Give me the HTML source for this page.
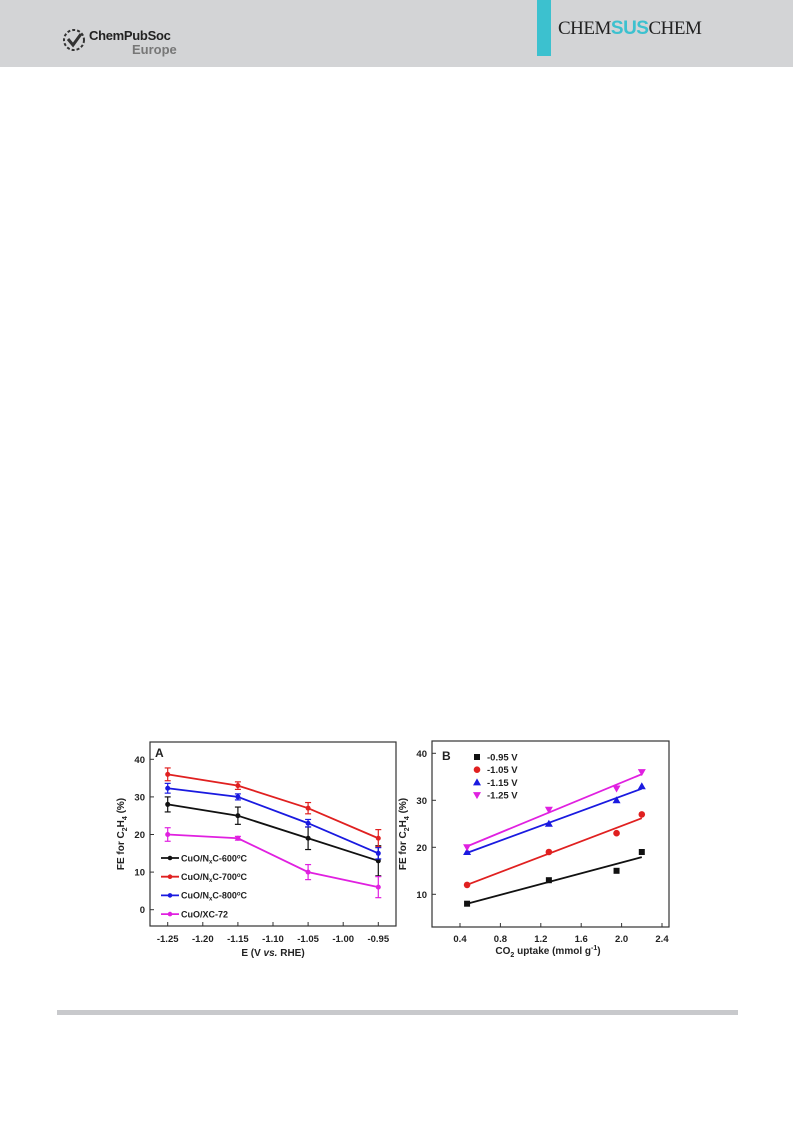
<!DOCTYPE html>
<html><head><meta charset="utf-8"><style>
body{margin:0;width:793px;height:1121px;background:#fff;position:relative;overflow:hidden;font-family:"Liberation Sans",sans-serif}
#hdr{position:absolute;left:0;top:0;width:793px;height:67px;background:#d3d4d6}
#teal{position:absolute;left:537px;top:0;width:14px;height:56px;background:#3cc1cf}
#journal{position:absolute;left:558px;top:18px;font-family:"Liberation Serif",serif;font-size:19px;color:#222;letter-spacing:-0.5px}
#journal span{font-family:"Liberation Sans",sans-serif;color:#3cc1cf;font-weight:bold}
#pub{position:absolute;left:89px;top:28px;font-size:13px;color:#222;font-weight:bold;letter-spacing:-0.3px}
#eur{position:absolute;left:132px;top:42px;font-size:13px;color:#777;font-weight:bold}
#rule{position:absolute;left:57px;top:1010px;width:681px;height:5px;background:#c8c9cc}
svg text{font-family:"Liberation Sans",sans-serif;font-weight:bold;fill:#222}
</style></head><body>
<div id="hdr"></div>
<svg style="position:absolute;left:62px;top:28px" width="26" height="26"><circle cx="12" cy="12" r="10" fill="none" stroke="#333" stroke-width="2" stroke-dasharray="3 2"/><path d="M6 11l5 6 8-11" stroke="#333" stroke-width="3" fill="none"/></svg>
<div id="pub">ChemPubSoc</div>
<div id="eur">Europe</div>
<div id="teal"></div>
<div id="journal">CHEM<span>SUS</span>CHEM</div>
<div id="rule"></div>
<svg id="chart" width="793" height="1121" style="position:absolute;left:0;top:0"></svg>
<script>
const aCats=[-1.25,-1.15,-1.05,-0.95];
const aNames=["CuO/NₓC-600°C","CuO/NₓC-700°C","CuO/NₓC-800°C","CuO/XC-72"];
const a600=[28,25,19,13], a700=[36,33,27,19], a800=[32.3,30,23,15], aXC=[20,19,10,6];
const e600=[2,2.3,3,4], e700=[1.7,1,1.5,2.3], e800=[1.3,0.8,1,1.5], eXC=[1.8,0.5,2,2.8];
const aXTicks=[-1.25,-1.2,-1.15,-1.1,-1.05,-1,-0.95];
const aXLabels=["-1.25","-1.20","-1.15","-1.10","-1.05","-1.00","-0.95"];
const aYTicks=[0,10,20,30,40];
const bX=[0.47,1.28,1.95,2.2];
const bNames=["-0.95 V","-1.05 V","-1.15 V","-1.25 V"];
const b095=[8,13,15,19], b105=[12,19,23,27], b115=[19,25,30,33], b125=[20,28,32.5,36];
const bXTicks=[0.4,0.8,1.2,1.6,2.0,2.4];
const bYTicks=[10,20,30,40];
const colors=["#111","#e02020","#1a1ae0","#e020e0"];
const svg=document.getElementById('chart');
const NS="http://www.w3.org/2000/svg";
function mk(t,a,p){const e=document.createElementNS(NS,t);for(const k in a)e.setAttribute(k,a[k]);(p||svg).appendChild(e);return e;}
function txt(s,x,y,sz,anc,p){const e=mk('text',{x:x,y:y,'font-size':sz,'text-anchor':anc||'middle'},p);e.textContent=s;return e;}
// Chart A
const gA=mk('g',{});


const ax=v=>167.7+(v+1.25)/0.3*210.6, ay=v=>909.7-v*3.76;
let r=mk('rect',{x:150,y:742,width:246,height:184,fill:'none',stroke:'#333','stroke-width':1.2},gA);

aXTicks.forEach((t,i)=>{mk('line',{x1:ax(t),x2:ax(t),y1:926,y2:922,stroke:'#333'},gA);const l=txt(aXLabels[i],ax(t),942,9.5,'middle',gA);});
aYTicks.forEach(t=>{mk('line',{x1:150,x2:154,y1:ay(t),y2:ay(t),stroke:'#333'},gA);const l=txt(String(t),145,ay(t)+3.5,9.5,'end',gA);});
let xt=txt('',273,956,10,'middle',gA);xt.innerHTML='E (V <tspan font-style="italic">vs.</tspan> RHE)';
let yt=txt('',0,0,10,'middle',gA);yt.setAttribute('transform','translate(124,834) rotate(-90)');yt.innerHTML='FE for C<tspan font-size="7" dy="3">2</tspan><tspan dy="-3">H</tspan><tspan font-size="7" dy="3">4</tspan><tspan dy="-3"> (%)</tspan>';
let pa=txt('A',155,757,12,'start',gA);
const aSer=[a600,a700,a800,aXC], aErr=[e600,e700,e800,eXC];
aSer.forEach((s,k)=>{
 const g=mk('g',{},gA);
 
 
 mk('polyline',{points:s.map((v,i)=>ax(aCats[i])+','+ay(v)).join(' '),fill:'none',stroke:colors[k],'stroke-width':1.8},g);
 s.forEach((v,i)=>{const x=ax(aCats[i]),e=aErr[k][i];
  mk('line',{x1:x,x2:x,y1:ay(v+e),y2:ay(v-e),stroke:colors[k],'stroke-width':1.2},g);
  mk('line',{x1:x-3,x2:x+3,y1:ay(v+e),y2:ay(v+e),stroke:colors[k],'stroke-width':1.2},g);
  mk('line',{x1:x-3,x2:x+3,y1:ay(v-e),y2:ay(v-e),stroke:colors[k],'stroke-width':1.2},g);
  const m=mk('circle',{cx:x,cy:ay(v),r:2.5,fill:colors[k]},g);
  });
 const ly=858+k*18.7;
 const lg=mk('g',{},gA);
 
 
 mk('line',{x1:161,x2:179,y1:ly,y2:ly,stroke:colors[k],'stroke-width':1.8},lg);
 mk('circle',{cx:170,cy:ly,r:2.3,fill:colors[k]},lg);
 const t=aNames[k];
 const te=txt('',181,ly+3.3,9,'start',lg);
 if(t.includes('ₓ')){const p=t.split('ₓ');te.innerHTML=p[0]+'<tspan font-size="6" dy="2">x</tspan><tspan dy="-2">'+p[1].replace('°','</tspan><tspan font-size="6" dy="-3">o</tspan><tspan dy="3">')+'</tspan>';}
 else te.textContent=t;
});
// Chart B
const gB=mk('g',{});


const bx=v=>460+(v-0.4)/2.0*202, by=v=>894.3-(v-10)*4.7;
r=mk('rect',{x:432,y:741,width:237,height:186,fill:'none',stroke:'#333','stroke-width':1.2},gB);

bXTicks.forEach(t=>{mk('line',{x1:bx(t),x2:bx(t),y1:927,y2:923,stroke:'#333'},gB);const l=txt(t.toFixed(1),bx(t),942,9.5,'middle',gB);});
bYTicks.forEach(t=>{mk('line',{x1:432,x2:436,y1:by(t),y2:by(t),stroke:'#333'},gB);const l=txt(String(t),427,by(t)+3.5,9.5,'end',gB);});
xt=txt('',548,954,10,'middle',gB);xt.innerHTML='CO<tspan font-size="7" dy="3">2</tspan><tspan dy="-3"> uptake (mmol g</tspan><tspan font-size="7" dy="-4">-1</tspan><tspan dy="4">)</tspan>';
yt=txt('',0,0,10,'middle',gB);yt.setAttribute('transform','translate(406,834) rotate(-90)');yt.innerHTML='FE for C<tspan font-size="7" dy="3">2</tspan><tspan dy="-3">H</tspan><tspan font-size="7" dy="3">4</tspan><tspan dy="-3"> (%)</tspan>';
pa=txt('B',442,760,12,'start',gB);
function marker(k,x,y,p){
 if(k==0)return mk('rect',{x:x-3,y:y-3,width:6,height:6,fill:colors[k]},p);
 if(k==1)return mk('circle',{cx:x,cy:y,r:3.3,fill:colors[k]},p);
 if(k==2)return mk('polygon',{points:`${x},${y-4} ${x-4},${y+3} ${x+4},${y+3}`,fill:colors[k]},p);
 return mk('polygon',{points:`${x},${y+4} ${x-4},${y-3} ${x+4},${y-3}`,fill:colors[k]},p);
}
[b095,b105,b115,b125].forEach((s,k)=>{
 const g=mk('g',{},gB);
 
 
 const n=s.length,mx=bX.reduce((a,b)=>a+b)/n,my=s.reduce((a,b)=>a+b)/n;
 let sxy=0,sxx=0;bX.forEach((x,i)=>{sxy+=(x-mx)*(s[i]-my);sxx+=(x-mx)*(x-mx);});
 const sl=sxy/sxx,ic=my-sl*mx;
 const fl=mk('line',{x1:bx(bX[0]),y1:by(ic+sl*bX[0]),x2:bx(bX[n-1]),y2:by(ic+sl*bX[n-1]),stroke:colors[k],'stroke-width':1.8},g);
 
 s.forEach((v,i)=>{const m=marker(k,bx(bX[i]),by(v),g);});
 const ly=757+k*12.7;
 const lg=mk('g',{},gB);
 
 
 marker(k,477,ly,lg);
 txt(bNames[k],487,ly+3.5,9.5,'start',lg);
});
</script>
</body></html>
